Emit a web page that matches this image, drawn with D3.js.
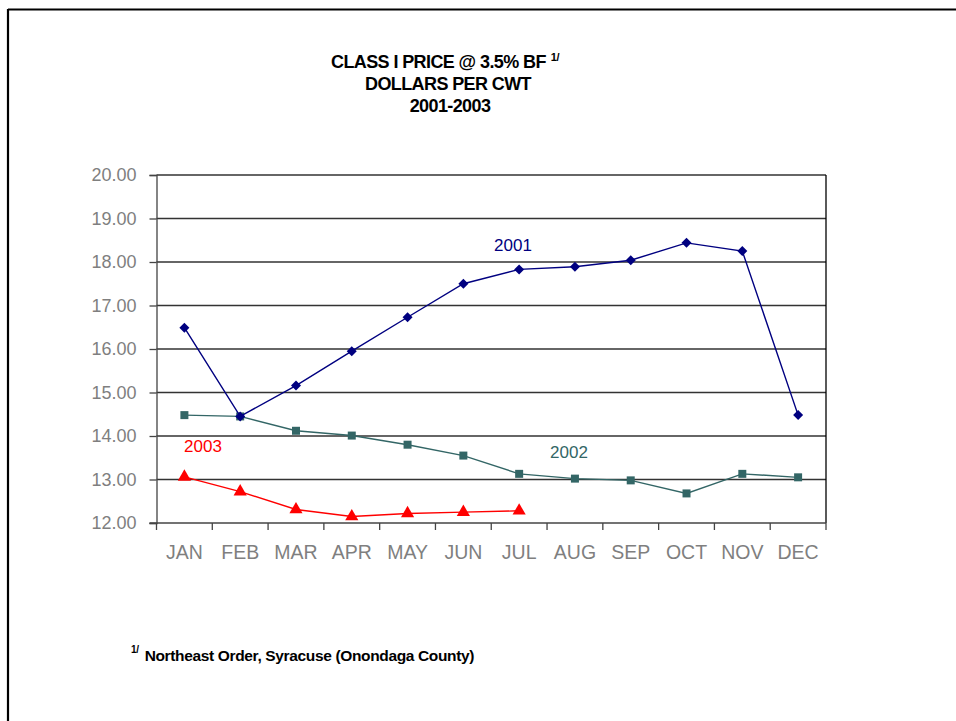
<!DOCTYPE html>
<html><head><meta charset="utf-8">
<script src="https://cdn.jsdelivr.net/npm/d3@7"></script>
<style>
html,body{margin:0;padding:0;background:#fff;}
svg{display:block;font-family:"Liberation Sans",Arial,sans-serif;}
</style></head>
<body><svg id="c" width="956" height="721"></svg>
<script>
const months = ["JAN","FEB","MAR","APR","MAY","JUN","JUL","AUG","SEP","OCT","NOV","DEC"];
const yTicks = [12,13,14,15,16,17,18,19,20];
const v2001 = [16.49,14.45,15.16,15.95,16.73,17.50,17.83,17.89,18.04,18.44,18.25,14.48];
const v2002 = [14.48,14.45,14.12,14.01,13.80,13.55,13.13,13.02,12.98,12.68,13.13,13.05];
const v2003 = [13.06,12.72,12.31,12.15,12.22,12.25,12.28];
const seriesNames = ["2001","2002","2003"];
const titleLines = ["CLASS I PRICE @ 3.5% BF","DOLLARS PER CWT","2001-2003"];
const footnote = "Northeast Order, Syracuse (Onondaga County)";

const svg = d3.select("#c");
// outer frame
svg.append("line").attr("x1",8).attr("x2",956).attr("y1",9.5).attr("y2",9.5).attr("stroke","#000").attr("stroke-width",2.2);
svg.append("line").attr("x1",8).attr("x2",8).attr("y1",9).attr("y2",721).attr("stroke","#000").attr("stroke-width",2.2);

const L=156.5, R=826, T=175, B=523;
const x = d3.scaleBand().domain(months).range([L,R]);
const y = d3.scaleLinear().domain([12,20]).range([B,T]);

// gridlines
svg.append("g").selectAll("line").data(yTicks.filter(d=>d>12)).join("line")
  .attr("x1",L).attr("x2",R).attr("y1",d=>y(d)).attr("y2",d=>y(d))
  .attr("stroke","#333").attr("stroke-width",1.7);
// plot border right
svg.append("line").attr("x1",R).attr("x2",R).attr("y1",T).attr("y2",B).attr("stroke","#000").attr("stroke-width",1.3);

// y axis
const ya = svg.append("g").attr("transform",`translate(${L},0)`)
  .call(d3.axisLeft(y).tickValues(yTicks).tickSize(7).tickPadding(13).tickFormat(d3.format(".2f")));
ya.select(".domain").attr("stroke","#444").attr("stroke-width",1.3);
ya.selectAll(".tick line").attr("stroke","#444").attr("stroke-width",1.3);
ya.selectAll("text").attr("fill","#7f7f7f").style("font-size","18px").style("font-family","'Liberation Sans',Arial,sans-serif");

// x axis
const xa = svg.append("g").attr("transform",`translate(0,${B})`)
  .call(d3.axisBottom(x).tickSize(0).tickPadding(22));
xa.select(".domain").remove();
xa.append("line").attr("x1",L-7).attr("x2",R).attr("y1",0).attr("y2",0).attr("stroke","#444").attr("stroke-width",1.3);
xa.selectAll(".tick text").attr("fill","#7f7f7f").style("font-size","19.5px").style("font-family","'Liberation Sans',Arial,sans-serif");
// boundary ticks
xa.append("g").selectAll("line").data(months.map(m=>x(m)).concat([R])).join("line")
  .attr("x1",d=>d).attr("x2",d=>d).attr("y1",0).attr("y2",7).attr("stroke","#444").attr("stroke-width",1.3);

const cx = m => x(m)+x.bandwidth()/2;
const line = d3.line().x(d=>cx(d.m)).y(d=>y(d.v));
function draw(vals,color,sym,size,rot){
  const data = vals.map((v,i)=>({m:months[i],v}));
  svg.append("path").datum(data).attr("d",line).attr("fill","none").attr("stroke",color).attr("stroke-width",1.4);
  svg.append("g").selectAll("path").data(data).join("path")
    .attr("transform",d=>`translate(${cx(d.m)},${y(d.v)}) rotate(${rot})`)
    .attr("d",d3.symbol().type(sym).size(size)).attr("fill",color);
}
draw(v2002,"#336666",d3.symbolSquare,64,0);
draw(v2003,"#ff0000",d3.symbolTriangle,75,0);
draw(v2001,"#000080",d3.symbolSquare,50,45);

// series labels
const lab = [[seriesNames[0],513,251,"#000080"],[seriesNames[1],569,458,"#336666"],[seriesNames[2],203,452,"#ff0000"]];
svg.append("g").selectAll("text").data(lab).join("text")
  .attr("x",d=>d[1]).attr("y",d=>d[2]).attr("text-anchor","middle").attr("fill",d=>d[3])
  .style("font-size","17px").text(d=>d[0]);

// title
const tt = svg.append("g").attr("font-weight","bold").style("font-size","18px").attr("letter-spacing","-0.6");
const t1 = tt.append("text").attr("x",331).attr("y",68);
t1.append("tspan").text(titleLines[0]);
t1.append("tspan").attr("dx",5).attr("dy",-7).style("font-size","11px").attr("letter-spacing","-0.3").text("1/");
tt.append("text").attr("x",448).attr("y",90).attr("text-anchor","middle").text(titleLines[1]);
tt.append("text").attr("x",450).attr("y",112).attr("text-anchor","middle").text(titleLines[2]);

// footnote
const fn = svg.append("text").attr("x",131).attr("y",661).attr("font-weight","bold").style("font-size","15.5px").attr("letter-spacing","-0.35");
fn.append("tspan").attr("dy",-8).style("font-size","10px").text("1/");
fn.append("tspan").attr("dx",6).attr("dy",8).text(footnote);
</script></body></html>
